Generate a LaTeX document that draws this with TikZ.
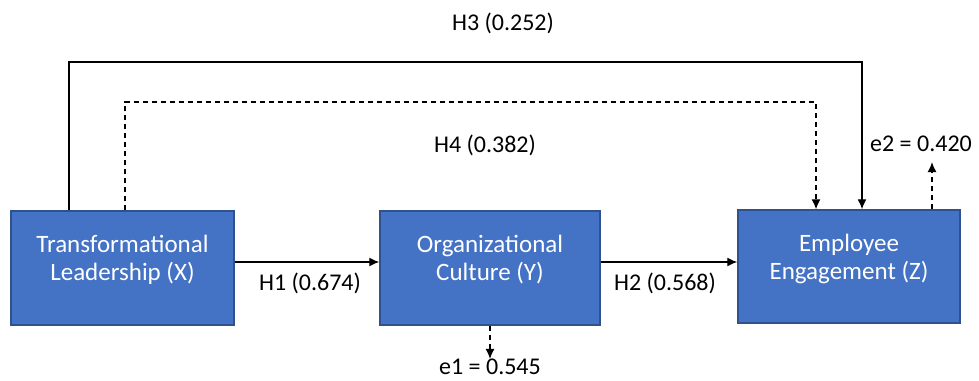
\documentclass[tikz,border=0pt]{standalone}
\usepackage{fontspec}
\setmainfont{Carlito}
\usetikzlibrary{arrows.meta}
\definecolor{boxfill}{HTML}{4472C4}
\definecolor{boxline}{HTML}{2F528F}
\tikzset{
  varbox/.style = {draw=boxline, line width=1.5pt, fill=boxfill, inner sep=0pt},
  boxtext/.style = {text=white, align=center, inner sep=0pt, font=\fontsize{25}{28}\selectfont},
  pathlabel/.style = {inner sep=0pt, font=\fontsize{24}{28}\selectfont},
  link/.style = {line width=1.3pt, -{Latex[length=10pt,width=9pt]}},
  errlink/.style = {link, dash pattern=on 5.5pt off 3.5pt}
}
\begin{document}
\begin{tikzpicture}[x=1pt, y=-1pt]
  \useasboundingbox (0,0) rectangle (979,380);
  % variables
  \node[varbox, minimum width=223pt, minimum height=114pt] (tl) at (122.5,268) {};
  \node[varbox, minimum width=220pt, minimum height=114pt] (oc) at (490,268) {};
  \node[varbox, minimum width=222pt, minimum height=113pt] (ee) at (849,266.5) {};
  \node[boxtext] (tltext) at ([yshift=8pt]tl.center) {Transformational\\Leadership (X)};
  \node[boxtext] (octext) at ([yshift=8pt]oc.center) {Organizational\\Culture (Y)};
  \node[boxtext] (eetext) at ([yshift=8pt]ee.center) {Employee\\Engagement (Z)};
  % labels
  \node[pathlabel] (h1) at (310,283) {H1 (0.674)};
  \node[pathlabel] (h2) at (665,283) {H2 (0.568)};
  \node[pathlabel] (h3) at (503,23) {H3 (0.252)};
  \node[pathlabel] (h4) at (485,145) {H4 (0.382)};
  \node[pathlabel] (e1) at (490,367) {e1 = 0.545};
  \node[pathlabel] (e2) at (921,144) {e2 = 0.420};
  % direct paths
  \draw[link] (tl.east |- 0,262) -- (oc.west |- 0,262);
  \draw[link] (oc.east |- 0,262) -- (ee.west |- 0,262);
  \draw[link] (tl.north -| 69,0) |- (862,62) -- (ee.north -| 862,0);
  \draw[errlink] (tl.north -| 125,0) |- (816,102) -- (ee.north -| 816,0);
  % error terms
  \draw[errlink] (oc.south) -- (e1.north);
  \draw[errlink] (ee.north -| 932,0) -- ([yshift=-10pt]e2.south -| 932,0);
\end{tikzpicture}
\end{document}
